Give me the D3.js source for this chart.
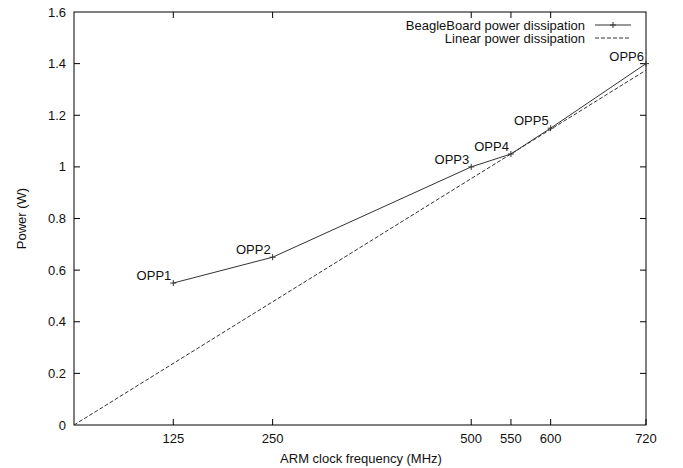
<!DOCTYPE html>
<html>
<head>
<meta charset="utf-8">
<script src="https://cdn.jsdelivr.net/npm/d3@7"></script>
<style>
  body { margin: 0; background: #fff; }
  text { font-family: "Liberation Sans", Arial, sans-serif; font-size: 13px; fill: #111; }
</style>
</head>
<body>
<svg id="chart" width="683" height="468"></svg>
<script>
// measured points (MHz, W)
var freq = [125, 250, 500, 550, 600, 720]
var power = [0.55, 0.65, 1.0, 1.05, 1.15, 1.4]
var oppNames = ["OPP1", "OPP2", "OPP3", "OPP4", "OPP5", "OPP6"]

// linear reference, scaled from OPP4
var linearX = [0, 720]
var linearY = [0, 1.05 / 550 * 720]

var xTicks = [125, 250, 500, 550, 600, 720]
var yTicks = [0, 0.2, 0.4, 0.6, 0.8, 1, 1.2, 1.4, 1.6]

var legendNames = ["BeagleBoard power dissipation", "Linear power dissipation"]

var plotLeft = 74, plotRight = 646, plotTop = 12, plotBottom = 425
var lineColor = "#333"

var svg = d3.select("#chart")

var x = d3.scaleLinear().domain([0, 720]).range([plotLeft, plotRight])
var y = d3.scaleLinear().domain([0, 1.6]).range([plotBottom, plotTop])

// frame
svg.append("rect")
  .attr("x", plotLeft).attr("y", plotTop)
  .attr("width", plotRight - plotLeft).attr("height", plotBottom - plotTop)
  .attr("fill", "none").attr("stroke", "#000").attr("stroke-width", 1)

// ticks, inward on all four sides
var tickLen = 6
svg.append("g").selectAll("line").data(xTicks).enter().append("line")
  .attr("x1", function(d) { return x(d) }).attr("x2", function(d) { return x(d) })
  .attr("y1", plotBottom).attr("y2", plotBottom - tickLen).attr("stroke", "#000")
svg.append("g").selectAll("line").data(xTicks.filter(function(d) { return d < 720 })).enter().append("line")
  .attr("x1", function(d) { return x(d) }).attr("x2", function(d) { return x(d) })
  .attr("y1", plotTop).attr("y2", plotTop + tickLen).attr("stroke", "#000")
svg.append("g").selectAll("line").data(yTicks.slice(1, -1)).enter().append("line")
  .attr("x1", plotLeft).attr("x2", plotLeft + tickLen)
  .attr("y1", function(d) { return y(d) }).attr("y2", function(d) { return y(d) }).attr("stroke", "#000")
svg.append("g").selectAll("line").data(yTicks.slice(1, -1)).enter().append("line")
  .attr("x1", plotRight).attr("x2", plotRight - tickLen)
  .attr("y1", function(d) { return y(d) }).attr("y2", function(d) { return y(d) }).attr("stroke", "#000")

// tick labels
svg.append("g").selectAll("text").data(xTicks).enter().append("text")
  .attr("x", function(d) { return x(d) }).attr("y", plotBottom + 18)
  .attr("text-anchor", "middle").text(function(d) { return d })
svg.append("g").selectAll("text").data(yTicks).enter().append("text")
  .attr("x", plotLeft - 8).attr("y", function(d) { return y(d) + 4.5 })
  .attr("text-anchor", "end").text(function(d) { return d })

// axis titles
svg.append("text").attr("x", (plotLeft + plotRight) / 2 + 1).attr("y", plotBottom + 38)
  .attr("text-anchor", "middle").text("ARM clock frequency (MHz)")
svg.append("text").attr("transform", "translate(26," + (plotTop + plotBottom) / 2 + ") rotate(-90)")
  .attr("text-anchor", "middle").attr("font-size", "13.5px").text("Power (W)")

// linear dashed line
var linData = linearX.map(function(d, i) { return [d, linearY[i]] })
svg.append("path").datum(linData)
  .attr("d", d3.line().x(function(d) { return x(d[0]) }).y(function(d) { return y(d[1]) }))
  .attr("fill", "none").attr("stroke", lineColor).attr("stroke-dasharray", "4,2")

// measured line
var data = freq.map(function(d, i) { return [d, power[i], oppNames[i]] })
svg.append("path").datum(data)
  .attr("d", d3.line().x(function(d) { return x(d[0]) }).y(function(d) { return y(d[1]) }))
  .attr("fill", "none").attr("stroke", lineColor)

function plus(g, cx, cy) {
  g.append("line").attr("x1", cx - 3).attr("x2", cx + 3).attr("y1", cy).attr("y2", cy).attr("stroke", lineColor)
  g.append("line").attr("x1", cx).attr("x2", cx).attr("y1", cy - 3).attr("y2", cy + 3).attr("stroke", lineColor)
}

var pts = svg.append("g")
data.forEach(function(d) {
  plus(pts, x(d[0]), y(d[1]))
  pts.append("text").attr("x", x(d[0]) - 2).attr("y", y(d[1]) - 3)
    .attr("text-anchor", "end").attr("font-size", "13.8px").text(d[2])
})

// legend
var legX = 585, legY = [25, 38]
legendNames.forEach(function(name, i) {
  svg.append("text").attr("x", legX).attr("y", legY[i] + 4.5)
    .attr("text-anchor", "end").attr("font-size", "13.5px").text(name)
  var ln = svg.append("line").attr("x1", 595).attr("x2", 631)
    .attr("y1", legY[i]).attr("y2", legY[i]).attr("stroke", lineColor)
  if (i == 1) ln.attr("stroke-dasharray", "4,2")
  else plus(svg, 613, legY[i])
})
</script>
</body>
</html>
